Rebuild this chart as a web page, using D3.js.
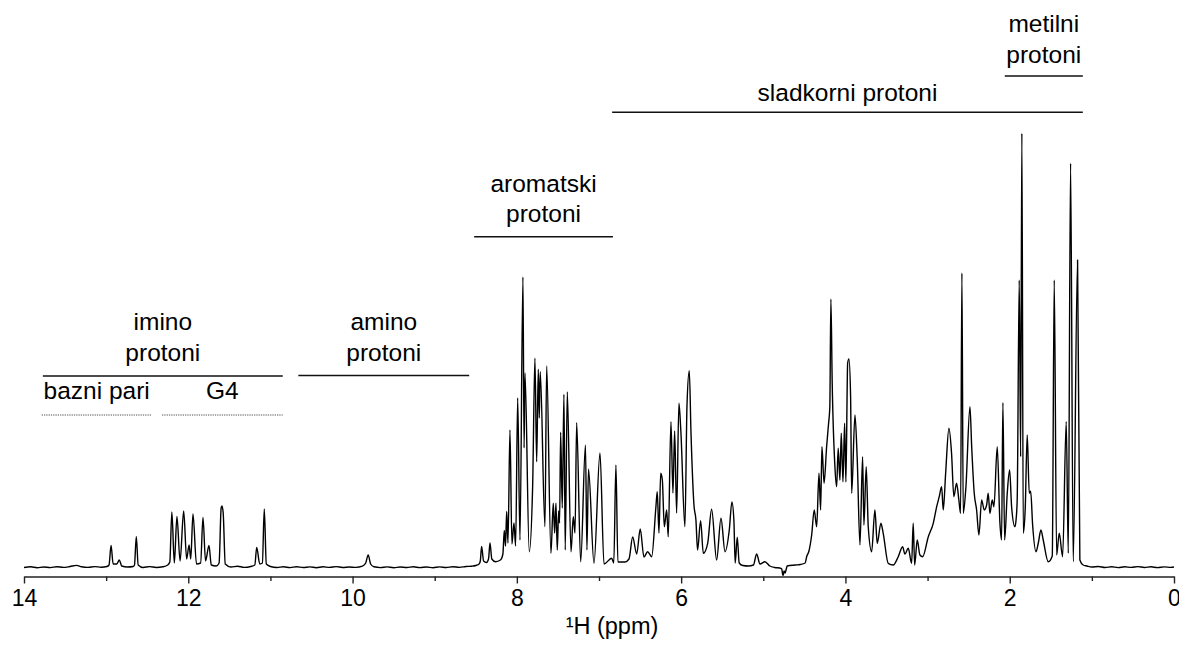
<!DOCTYPE html>
<html><head><meta charset="utf-8">
<script src="https://cdn.jsdelivr.net/npm/d3@7"></script>
<style>
html,body{margin:0;padding:0;background:#fff;}
svg{display:block;}
text{font-family:"Liberation Sans",Arial,Helvetica,sans-serif;fill:#000;}
</style></head><body>
<svg id="chart" width="1179" height="645"></svg>
<script>
// ---- DATA (ppm, intensity in arbitrary units) ----
const spectrum = [
[14.00,0.5],[13.92,1.2],[13.84,0.3],[13.76,1.0],[13.68,0.4],[13.60,1.3],[13.52,0.6],[13.44,1.5],[13.36,2.6],[13.30,1.2],[13.22,0.6],[13.14,1.4],[13.06,0.8],[12.99,1.5],
[12.965,3],[12.94,22.6],[12.915,4],[12.87,4],[12.84,8],[12.81,2],[12.74,1],[12.67,1.5],[12.655,3],[12.633,31.6],[12.61,3],[12.55,0.5],[12.47,1.4],[12.39,0.5],[12.31,1.2],[12.25,3],
[12.225,6],[12.20,56],[12.17,5],[12.138,51.6],[12.10,7],[12.056,57],[12.02,9],[11.99,23],[11.97,9],[11.943,54],[11.90,4],[11.85,5],[11.821,50.6],[11.79,7],[11.748,22.6],[11.72,3],[11.66,2],
[11.625,5],[11.60,60],[11.59,62],[11.575,55],[11.55,4],[11.48,1],[11.40,1.8],[11.32,0.6],[11.24,1.5],[11.19,3],[11.167,20.6],[11.13,4],[11.098,5],[11.075,59],[11.05,4],[11.00,1.5],[10.92,0.5],
[10.84,1.2],[10.76,0.4],[10.68,1.3],[10.60,0.5],[10.52,1.1],[10.44,0.3],[10.36,1.2],[10.28,0.6],[10.20,1.4],[10.12,0.5],[10.04,1.0],[9.96,0.6],[9.88,1.8],[9.84,5],[9.81,13],[9.78,4],[9.74,1.2],
[9.66,0.4],[9.58,1.1],[9.50,0.3],[9.42,1.0],[9.34,0.5],[9.26,1.2],[9.18,0.4],[9.10,1.0],[9.02,0.3],[8.94,1.1],[8.86,0.5],[8.78,1.3],[8.70,0.6],[8.62,1.5],[8.55,1.8],[8.50,2.5],[8.46,4],
[8.445,7],[8.429,21.6],[8.405,7],[8.37,5.5],[8.345,9],[8.327,25],[8.305,9],[8.26,6.3],[8.20,8],[8.17,14],[8.153,37.6],[8.138,22],[8.124,56.6],[8.108,25],[8.084,138],[8.06,24],[8.035,45],[8.015,22],
[7.99,170],[7.962,28],[7.926,291],[7.912,120],[7.901,195],[7.849,16.3],[7.808,81.3],[7.78,209.7],[7.759,106.3],[7.739,198.7],[7.727,150],[7.715,196.3],[7.658,41.3],[7.637,202],[7.585,14.7],
[7.557,64.7],[7.54,35],[7.524,64.7],[7.508,18],[7.491,57],[7.48,45],[7.467,135.7],[7.447,60],[7.427,173.7],[7.411,18],[7.386,176],[7.341,16.3],[7.313,51.3],[7.292,35],[7.272,145.3],[7.223,6.3],
[7.165,123],[7.147,18],[7.128,99],[7.061,4.7],[6.988,115],[6.939,4],[6.846,9.7],[6.82,5],[6.794,103],[6.77,6],[6.684,6],[6.635,9],[6.590,31],[6.541,14],[6.498,39],[6.453,11],[6.408,16.3],[6.359,11.3],
[6.307,61.3],[6.291,76.3],[6.270,35],[6.249,94.7],[6.229,88],[6.205,41.3],[6.176,58],[6.157,31.3],[6.124,146.3],[6.10,75],[6.079,137],[6.055,55],[6.027,164.7],[6.003,136],[5.954,41.3],[5.929,162],
[5.901,197.3],[5.88,135],[5.844,63],[5.82,48],[5.80,18],[5.763,47.3],[5.73,14.7],[5.677,24.7],[5.629,58.7],[5.568,8],[5.515,49.7],[5.466,16.3],[5.414,38],[5.382,66],[5.358,48],[5.342,5],[5.317,30.7],
[5.293,5],[5.25,2.5],[5.18,2],[5.12,3],[5.081,14],[5.04,4],[4.98,6.3],[4.92,2],[4.86,0.5],[4.80,0],[4.775,-1],[4.765,-6],[4.757,-7.5],[4.748,-3],[4.735,-5],[4.72,-1],[4.71,2],[4.61,3],[4.55,3.5],[4.49,5],
[4.472,11.3],[4.444,17],[4.411,33],[4.380,58],[4.350,41.3],[4.322,94.7],[4.302,58],[4.286,121.3],[4.26,84.7],[4.229,121.3],[4.205,144.7],[4.19,161],[4.177,269],[4.161,185],[4.128,101.3],[4.107,81.3],
[4.088,119.7],[4.067,88],[4.051,134.7],[4.03,86.3],[4.010,144.7],[3.994,86],[3.973,204.7],[3.957,209],[3.937,171.3],[3.924,74.7],[3.884,153],[3.856,108],[3.823,23],[3.791,111.3],[3.775,43],[3.747,101.3],
[3.722,41],[3.681,16.3],[3.641,58],[3.613,24.7],[3.568,44.7],[3.540,34.7],[3.479,4.7],[3.418,3],[3.357,11.3],[3.304,21.3],[3.276,14],[3.235,19.7],[3.194,4.7],[3.175,44.7],[3.157,3],[3.126,28],[3.093,13],
[3.060,11.3],[2.991,31.3],[2.931,44.7],[2.889,61.3],[2.858,71.3],[2.829,81.3],[2.809,58],[2.780,94.7],[2.740,139.7],[2.708,114.7],[2.680,71.3],[2.647,84.7],[2.619,68],[2.598,54.7],[2.582,295],[2.566,54.7],
[2.533,81.3],[2.484,161.3],[2.463,121.3],[2.432,74.7],[2.403,58],[2.375,33],[2.342,68],[2.310,58],[2.281,63],[2.262,74.7],[2.241,54.7],[2.213,68],[2.192,61.3],[2.152,121.3],[2.119,44.7],[2.099,28],
[2.083,165.3],[2.062,28],[2.030,74.7],[2.001,98],[1.977,61.3],[1.937,41.3],[1.925,46.3],[1.909,68],[1.884,288],[1.867,111.3],[1.852,434.7],[1.835,34.7],[1.811,60],[1.787,133],[1.762,74.7],[1.745,76.7],
[1.721,43],[1.680,16.3],[1.652,25],[1.620,38],[1.592,28],[1.531,6.3],[1.482,12],[1.458,288],[1.429,13],[1.397,34.7],[1.356,11.3],[1.312,146.3],[1.287,14.7],[1.259,404.7],[1.227,6.3],[1.174,308],[1.146,8],
[1.106,3],[1.06,2],[1.00,1],[0.92,1.5],[0.84,0.5],[0.76,1.3],[0.68,0.4],[0.60,1.2],[0.52,0.6],[0.44,1.4],[0.36,0.5],[0.28,1.2],[0.20,0.4],[0.12,1.1],[0.04,0.6],[0.00,1]
];
const majorTicks = [14,12,10,8,6,4,2,0];
const minorTicks = [13,11,9,7,5,3,1];
const axisTitle = "\u00B9H (ppm)";
const regionNames = [["imino","protoni"],["amino","protoni"],["aromatski","protoni"],["sladkorni protoni"],["metilni","protoni"]];
const regionRanges = [[13.77,10.85],[10.66,8.58],[8.52,6.83],[6.84,1.11],[2.06,1.11]];
const subNames = ["bazni pari","G4"];
const subRanges = [[13.785,12.446],[12.32,10.85]];

// ---- LAYOUT ----
const layout = {
  xLeft: 24, xRight: 1174, yBase: 568, yTop: 133, axisY: 576.5,
  region: [ {first:330, line:376}, {first:330, line:375.5}, {first:191.7, line:236.7}, {first:100.7, line:112.3}, {first:32, line:76} ],
  lineGap: 30.5, subText: 399, subLine: 415, titleX: 612, titleY: 634
};

const svg = d3.select("#chart");
const x = d3.scaleLinear().domain([14, 0]).range([layout.xLeft, layout.xRight]);
const y = d3.scaleLinear().domain([0, 435]).range([layout.yBase, layout.yTop]);

// spectrum
const line = d3.line().x(d => x(d[0])).y(d => y(d[1])).curve(d3.curveMonotoneX);
svg.append("path").datum(spectrum)
  .attr("d", line).attr("fill", "none").attr("stroke", "#000")
  .attr("stroke-width", 1.4).attr("stroke-linejoin", "round");

// axis
const gAxis = svg.append("g").attr("transform", `translate(0,${layout.axisY})`);
gAxis.call(d3.axisBottom(x).tickValues(majorTicks).tickSize(7).tickPadding(6).tickSizeOuter(0).tickFormat(d3.format("d")));
gAxis.select(".domain").attr("stroke", "#222").attr("stroke-width", 1.6);
gAxis.selectAll(".tick line").attr("stroke", "#222").attr("stroke-width", 1.4);
gAxis.selectAll(".tick text").attr("font-size", 23).attr("fill", "#000")
  .attr("font-family", '"Liberation Sans", Arial, sans-serif');
const gMinor = svg.append("g").attr("transform", `translate(0,${layout.axisY})`);
gMinor.call(d3.axisBottom(x).tickValues(minorTicks).tickSize(4.5).tickSizeOuter(0).tickFormat(""));
gMinor.select(".domain").remove();
gMinor.selectAll(".tick line").attr("stroke", "#222").attr("stroke-width", 1.4);

svg.append("text").attr("x", layout.titleX).attr("y", layout.titleY)
  .attr("text-anchor", "middle").attr("font-size", 23.5).text(axisTitle);

// region annotations
regionRanges.forEach((r, i) => {
  const L = layout.region[i];
  const x0 = x(r[0]), x1 = x(r[1]);
  svg.append("line").attr("x1", x0).attr("x2", x1).attr("y1", L.line).attr("y2", L.line)
    .attr("stroke", "#111").attr("stroke-width", 1.5);
  regionNames[i].forEach((t, j) => {
    svg.append("text").attr("x", (x0 + x1) / 2).attr("y", L.first + j * layout.lineGap)
      .attr("text-anchor", "middle").attr("font-size", 24.5).text(t);
  });
});
subRanges.forEach((r, i) => {
  const x0 = x(r[0]), x1 = x(r[1]);
  svg.append("line").attr("x1", x0).attr("x2", x1).attr("y1", layout.subLine).attr("y2", layout.subLine)
    .attr("stroke", "#555").attr("stroke-width", 1.2).attr("stroke-dasharray", "1.3,1");
  svg.append("text").attr("x", (x0 + x1) / 2).attr("y", layout.subText)
    .attr("text-anchor", "middle").attr("font-size", 24.5).text(subNames[i]);
});
</script>
</body></html>
